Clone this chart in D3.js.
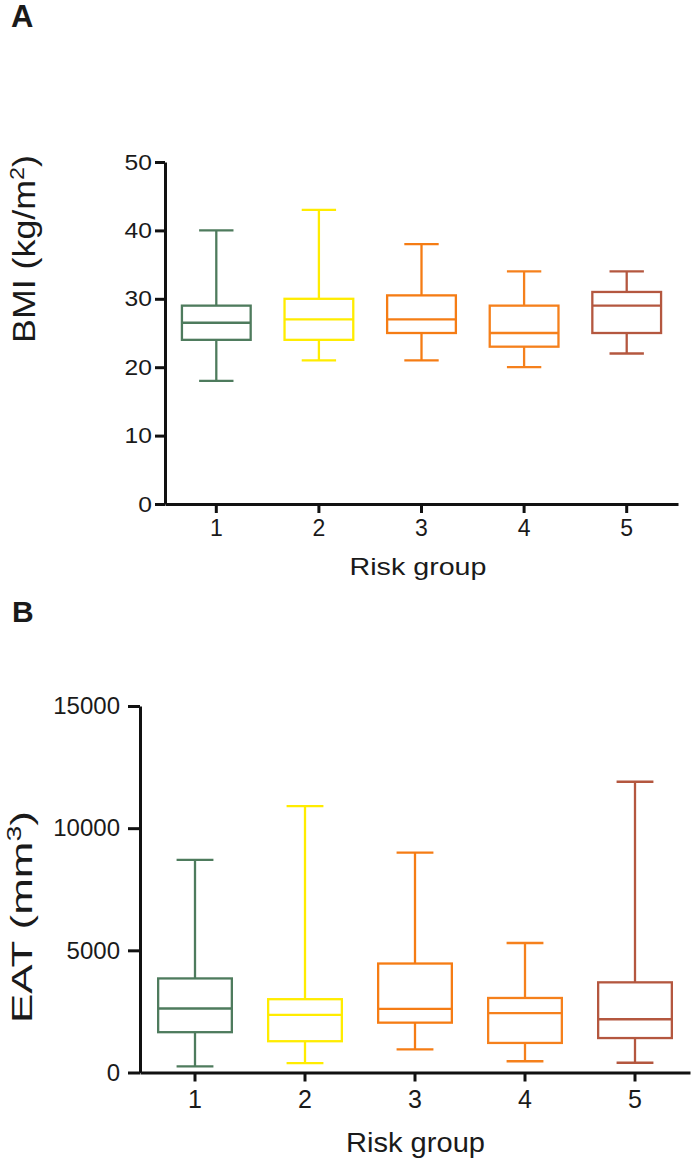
<!DOCTYPE html>
<html>
<head>
<meta charset="utf-8">
<script src="https://cdn.jsdelivr.net/npm/d3@7"></script>
<style>
  body { margin: 0; background: #fff; }
  text { font-family: "Liberation Sans", Arial, sans-serif; fill: #1a1a1a; }
</style>
</head>
<body>
<script>
// categories
const groups = ['1', '2', '3', '4', '5'];
const groupColors = ['#4e7b5d', '#ffec00', '#f57c14', '#f5801c', '#b4573f'];

// panel A - BMI (kg/m2), five-number summary per risk group
const bmiMin = [18, 21, 21, 20, 22];
const bmiQ1  = [24, 24, 25, 23, 25];
const bmiMed = [26.5, 27, 27, 25, 29];
const bmiQ3  = [29, 30, 30.5, 29, 31];
const bmiMax = [40, 43, 38, 34, 34];
const bmiTicks = [0, 10, 20, 30, 40, 50];

// panel B - EAT (mm3)
const eatMin = [250, 380, 950, 460, 400];
const eatQ1  = [1650, 1280, 2040, 1210, 1410];
const eatMed = [2620, 2360, 2600, 2430, 2180];
const eatQ3  = [3850, 3000, 4460, 3050, 3690];
const eatMax = [8700, 10900, 9000, 5300, 11900];
const eatTicks = [0, 5000, 10000, 15000];

const svg = d3.select('body').append('svg')
    .attr('width', 693)
    .attr('height', 1161);

svg.append('rect').attr('width', 693).attr('height', 1161).attr('fill', '#fff');

// stretch a text to a given length (the figure text is scaled)
function fitText(t, len, rot, cx, cy) {
    const w = t.node().getBBox().width;
    const k = len / w;
    t.attr('transform', 'translate(' + cx + ',' + cy + ')' + (rot ? ' rotate(-90)' : '') + ' scale(' + k + ',1)');
}

function drawPanel(opt) {
    const data = groups.map((g, i) => ({
        g: g, min: opt.min[i], q1: opt.q1[i], med: opt.med[i], q3: opt.q3[i], max: opt.max[i], color: groupColors[i]
    }));

    const x = d3.scaleBand().domain(groups).range([opt.left, opt.right]).padding(0);
    const y = d3.scaleLinear().domain([0, opt.ymax]).range([opt.bottom, opt.top]);

    const g = svg.append('g');

    // boxes
    const bw = x.bandwidth() * 0.67;
    const box = g.selectAll('.box').data(data).enter().append('g')
        .attr('class', 'box')
        .attr('stroke', d => d.color)
        .attr('stroke-width', 2.3)
        .attr('fill', 'none');

    const cx = d => x(d.g) + x.bandwidth() / 2;

    box.append('line') // upper whisker
        .attr('x1', cx).attr('x2', cx)
        .attr('y1', d => y(d.q3)).attr('y2', d => y(d.max));
    box.append('line') // lower whisker
        .attr('x1', cx).attr('x2', cx)
        .attr('y1', d => y(d.q1)).attr('y2', d => y(d.min));
    box.append('line') // caps
        .attr('x1', d => cx(d) - bw / 4).attr('x2', d => cx(d) + bw / 4)
        .attr('y1', d => y(d.max)).attr('y2', d => y(d.max));
    box.append('line')
        .attr('x1', d => cx(d) - bw / 4).attr('x2', d => cx(d) + bw / 4)
        .attr('y1', d => y(d.min)).attr('y2', d => y(d.min));
    box.append('rect')
        .attr('x', d => cx(d) - bw / 2)
        .attr('width', bw)
        .attr('y', d => y(d.q3))
        .attr('height', d => y(d.q1) - y(d.q3))
        .attr('fill', '#fff');
    box.append('line') // median
        .attr('x1', d => cx(d) - bw / 2).attr('x2', d => cx(d) + bw / 2)
        .attr('y1', d => y(d.med)).attr('y2', d => y(d.med));

    // axes
    const yAxis = g.append('g')
        .attr('transform', 'translate(' + opt.left + ',0)')
        .call(d3.axisLeft(y).tickValues(opt.ticks).tickFormat(d3.format('d'))
            .tickSize(opt.yTickLen).tickSizeOuter(0).tickPadding(opt.yPad));
    const xAxis = g.append('g')
        .attr('transform', 'translate(0,' + opt.bottom + ')')
        .call(d3.axisBottom(x).tickSize(9).tickSizeOuter(0).tickPadding(opt.xPad));

    [yAxis, xAxis].forEach(a => {
        a.attr('font-size', null).attr('font-family', null);
        a.select('.domain').attr('stroke', '#111').attr('stroke-width', 3);
        a.selectAll('.tick line').attr('stroke', '#111').attr('stroke-width', 3);
        a.selectAll('.tick text').attr('fill', '#1a1a1a');
    });
    // y tick labels, slightly widened like the figure
    yAxis.selectAll('.tick text')
        .attr('font-size', opt.yFont)
        .attr('x', 0)
        .attr('transform', 'translate(' + (-opt.yTickLen - opt.yPad) + ',0) scale(' + opt.yStretch + ',1)');
    xAxis.selectAll('.tick text').attr('font-size', opt.xFont);

    // axis titles
    const yt = g.append('text')
        .attr('text-anchor', 'middle')
        .attr('font-size', opt.yTitleFont);
    yt.append('tspan').text(opt.yTitle);
    yt.append('tspan').attr('font-size', '0.65em').attr('dy', '-0.55em').text(opt.yTitleSup);
    yt.append('tspan').attr('dy', '0.36em').text(')');
    fitText(yt, opt.yTitleLen, true, opt.yTitleX, opt.yTitleY);

    const xt = g.append('text')
        .attr('text-anchor', 'middle')
        .attr('font-size', opt.xTitleFont)
        .text('Risk group');
    fitText(xt, opt.xTitleLen, false, opt.xTitleX, opt.xTitleY);

    // panel letter
    g.append('text')
        .attr('x', opt.letterX).attr('y', opt.letterY)
        .attr('font-size', opt.letterFont)
        .attr('font-weight', 'bold')
        .attr('fill', '#111')
        .text(opt.letter);
}

drawPanel({
    min: bmiMin, q1: bmiQ1, med: bmiMed, q3: bmiQ3, max: bmiMax,
    ticks: bmiTicks, ymax: 50,
    left: 165, right: 678, top: 162, bottom: 504,
    yTickLen: 10, yPad: 3, xPad: 7, yFont: 22, yStretch: 1.12, xFont: 23,
    yTitle: 'BMI (kg/m', yTitleSup: '2', yTitleFont: 31, yTitleLen: 188, yTitleX: 35, yTitleY: 249,
    xTitleFont: 23, xTitleLen: 137, xTitleX: 418, xTitleY: 575,
    letter: 'A', letterX: 11, letterY: 27, letterFont: 31
});

drawPanel({
    min: eatMin, q1: eatQ1, med: eatMed, q3: eatQ3, max: eatMax,
    ticks: eatTicks, ymax: 15000,
    left: 140, right: 690, top: 706, bottom: 1072.5,
    yTickLen: 12, yPad: 8, xPad: 8.5, yFont: 24, yStretch: 1, xFont: 25,
    yTitle: 'EAT (mm', yTitleSup: '3', yTitleFont: 30, yTitleLen: 212, yTitleX: 32, yTitleY: 917,
    xTitleFont: 28, xTitleLen: 139, xTitleX: 415.5, xTitleY: 1152,
    letter: 'B', letterX: 12, letterY: 622, letterFont: 30
});
</script>
</body>
</html>
